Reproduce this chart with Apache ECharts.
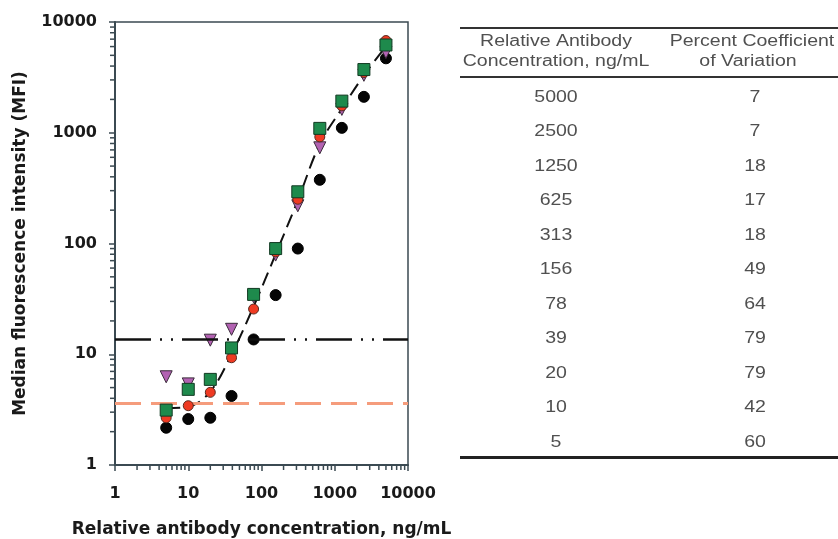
<!DOCTYPE html>
<html>
<head>
<meta charset="utf-8">
<script src="https://cdn.jsdelivr.net/npm/echarts@6/dist/echarts.min.js"></script>
<style>
  html, body { margin: 0; padding: 0; background: #fff; }
  #chart { width: 838px; height: 539px; }
</style>
</head>
<body>
<div id="chart"></div>
<script>
// concentrations (ng/mL) and MFI
const conc = [5, 10, 20, 39, 78, 156, 313, 625, 1250, 2500, 5000]
const mfiBlack  = [2.17, 2.6, 2.67, 4.2, 13.6, 34.2, 90, 376, 1107, 2110, 4700]
const mfiRed    = [2.67, 3.43, 4.53, 9.3, 25.6, 84, 251, 918, 1750, 3500, 6800]
const mfiGreen  = [3.13, 4.82, 5.93, 11.4, 34.7, 90, 293, 1095, 1930, 3720, 6200]
const mfiPurple = [6.26, 5.4, 13.4, 16.8, 33, 78.6, 219, 731, 1625, 3300, 5300]
const fitCurve  = [3.25, 3.35, 4.6, 10, 27, 80, 245, 790, 1650, 3300, 6000]
const lodLevel = 13.7
const blankLevel = 3.63

// table on the right
const tableHead1 = ['Relative Antibody', 'Concentration, ng/mL']
const tableHead2 = ['Percent Coefficient', 'of Variation']
const tableConc = ['5000', '2500', '1250', '625', '313', '156', '78', '39', '20', '10', '5']
const tableCV = ['7', '7', '18', '17', '18', '49', '64', '79', '79', '42', '60']

const minorSteps = [2, 3, 4, 5, 6, 7, 8, 9]
const decades = [1, 10, 100, 1000]
const minorVals = [].concat.apply([], decades.map(d => minorSteps.map(s => s * d)))

const axisColor = '#3b4a52'
const tickFont = { fontFamily: 'DejaVu Sans', fontWeight: 'bold', fontSize: 16, color: '#1a1a1a' }
const nameFont = { fontFamily: 'DejaVu Sans', fontWeight: 'bold', fontSize: 17, color: '#1a1a1a' }

const chart = echarts.init(document.getElementById('chart'), null, { renderer: 'canvas' })

const pts = arr => conc.map((c, i) => [c, arr[i]])

// table graphic
const tableGraphic = []
const tX1 = 556, tX2 = 755
const tText = (txt, x, y) => ({
  type: 'text', x, y, scaleX: 1.22, silent: true,
  style: { text: txt, textAlign: 'center', textVerticalAlign: 'middle',
           font: '16px "Liberation Sans", Arial, sans-serif', fill: '#505050' }
})
tableGraphic.push({ type: 'rect', shape: { x: 460, y: 27, width: 378, height: 2 }, style: { fill: '#333' }, silent: true })
tableGraphic.push(tText(tableHead1[0], tX1, 42), tText(tableHead1[1], tX1, 62))
tableGraphic.push(tText(tableHead2[0], 752, 42), tText(tableHead2[1], 748, 62))
tableGraphic.push({ type: 'rect', shape: { x: 460, y: 76, width: 378, height: 2 }, style: { fill: '#333' }, silent: true })
tableConc.forEach((c, i) => {
  const y = 97.5 + i * 34.5
  tableGraphic.push(tText(c, tX1, y), tText(tableCV[i], tX2, y))
})
tableGraphic.push({ type: 'rect', shape: { x: 460, y: 456, width: 378, height: 3 }, style: { fill: '#222' }, silent: true })

const option = {
  animation: false,
  grid: {
    left: 115, right: 430, top: 22, bottom: 74,
    outerBoundsMode: 'none',
    show: true, borderColor: axisColor, borderWidth: 1.5, backgroundColor: 'transparent'
  },
  xAxis: {
    type: 'log', logBase: 10, min: 1, max: 10000,
    name: 'Relative antibody concentration, ng/mL',
    nameLocation: 'middle', nameGap: 56, nameTextStyle: nameFont,
    axisLine: { lineStyle: { color: axisColor, width: 2 } },
    axisTick: { show: true, length: 6, inside: false, lineStyle: { color: axisColor, width: 1.5 } },
    axisLabel: Object.assign({ margin: 21, formatter: v => String(Math.round(v)) }, tickFont),
    splitLine: { show: false }
  },
  yAxis: {
    type: 'log', logBase: 10, min: 1, max: 10000,
    name: 'Median fluorescence intensity (MFI)',
    nameLocation: 'middle', nameRotate: 90, nameGap: 86, nameTextStyle: nameFont,
    axisLine: { lineStyle: { color: axisColor, width: 2 } },
    axisTick: { show: true, length: 6, inside: false, lineStyle: { color: axisColor, width: 1.5 } },
    axisLabel: Object.assign({ margin: 18, formatter: v => String(Math.round(v)) }, tickFont),
    splitLine: { show: false }
  },
  graphic: tableGraphic,
  series: [
    {
      // minor ticks on x
      type: 'custom', clip: false, silent: true, z: 1,
      data: minorVals.map(v => [v, 1]),
      renderItem: (params, api) => {
        const p = api.coord([api.value(0), api.value(1)])
        return { type: 'line', shape: { x1: p[0], y1: p[1], x2: p[0], y2: p[1] + 5 },
                 style: { stroke: axisColor, lineWidth: 1.5 } }
      }
    },
    {
      // minor ticks on y
      type: 'custom', clip: false, silent: true, z: 1,
      data: minorVals.map(v => [1, v]),
      renderItem: (params, api) => {
        const p = api.coord([api.value(0), api.value(1)])
        return { type: 'line', shape: { x1: p[0], y1: p[1], x2: p[0] - 5, y2: p[1] },
                 style: { stroke: axisColor, lineWidth: 1.5 } }
      }
    },
    {
      name: 'fit', type: 'line', data: pts(fitCurve), smooth: 0.35,
      symbol: 'none', z: 2,
      lineStyle: { color: '#111', width: 2, type: [14, 7] },
      markLine: {
        silent: true, symbol: 'none', label: { show: false },
        data: [
          { yAxis: lodLevel, lineStyle: { color: '#111', width: 2.5, type: [36, 9, 2, 9, 2, 9] } },
          { yAxis: blankLevel, lineStyle: { color: '#f59c7c', width: 3, type: [26, 10] } }
        ]
      }
    },
    {
      name: 'black', type: 'scatter', data: pts(mfiBlack), z: 3,
      symbol: 'circle', symbolSize: 11,
      itemStyle: { color: '#050505', borderColor: '#000', borderWidth: 1, opacity: 1 }
    },
    {
      name: 'purple', type: 'scatter', data: pts(mfiPurple), z: 4,
      symbol: 'triangle', symbolRotate: 180, symbolSize: 12,
      itemStyle: { color: '#b262b2', borderColor: '#3a2a3a', borderWidth: 1, opacity: 1 }
    },
    {
      name: 'red', type: 'scatter', data: pts(mfiRed), z: 5,
      symbol: 'circle', symbolSize: 10,
      itemStyle: { color: '#ef3a22', borderColor: '#5a2a20', borderWidth: 1, opacity: 1 }
    },
    {
      name: 'green', type: 'scatter', data: pts(mfiGreen), z: 6,
      symbol: 'rect', symbolSize: 12,
      itemStyle: { color: '#1e8a4c', borderColor: '#123a22', borderWidth: 1, opacity: 1 }
    }
  ]
}

chart.setOption(option)
</script>
</body>
</html>
